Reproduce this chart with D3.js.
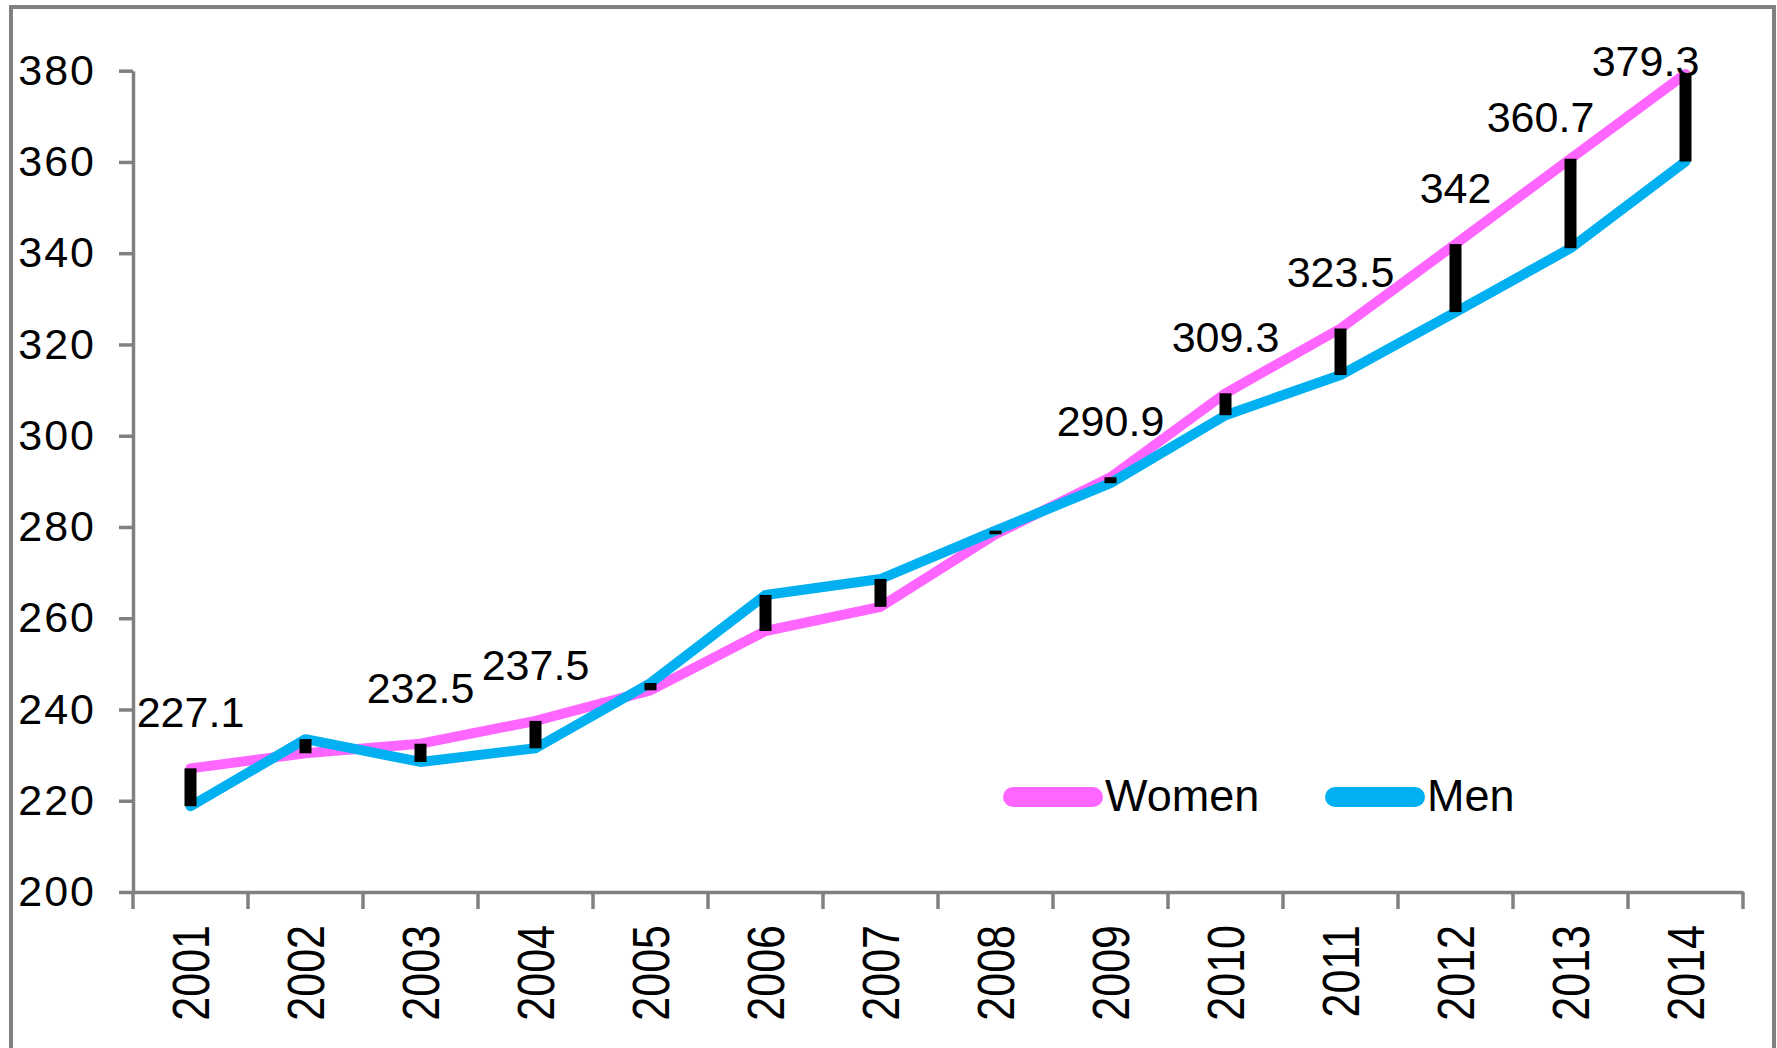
<!DOCTYPE html>
<html>
<head>
<meta charset="utf-8">
<script src="https://cdn.jsdelivr.net/npm/d3@7"></script>
<style>
  body { margin: 0; background: #fff; }
  svg { display: block; font-family: "Liberation Sans", Arial, sans-serif; }
  .domain, .tick line { stroke: #808080; stroke-width: 3.5; }
</style>
</head>
<body>
<script>
//chart values
var years = ["2001","2002","2003","2004","2005","2006","2007","2008","2009","2010","2011","2012","2013","2014"];
var women = [227.1, 230.4, 232.5, 237.5, 244.2, 257.2, 262.5, 278.4, 290.9, 309.3, 323.5, 342, 360.7, 379.3];
var men = [218.8, 233.5, 228.5, 231.5, 245.8, 265.1, 268.6, 279.2, 289.6, 304.5, 313.3, 327.1, 341.1, 360.1];
var labelYears = ["2001","2003","2004","2009","2010","2011","2012","2013","2014"];
var yTicks = [200, 220, 240, 260, 280, 300, 320, 340, 360, 380];
var seriesNames = ["Women", "Men"];

window.onload = drawChart();

function drawChart(){

    var width = 1777,
        height = 1048;

    var svg = d3.select("body")
        .append("svg")
        .attr("width", width)
        .attr("height", height);

    //outer chart border
    svg.append("rect")
        .attr("x", 11).attr("y", 7)
        .attr("width", 1763).attr("height", 1060)
        .attr("fill", "none")
        .attr("stroke", "#808080")
        .attr("stroke-width", 4);

    var x = d3.scaleBand()
        .domain(years)
        .range([133, 1743])
        .padding(0);

    var y = d3.scaleLinear()
        .domain([200, 380])
        .range([892, 70.7]);

    var cx = function(i){ return x(years[i]) + x.bandwidth() / 2; };

    //y axis
    var yAxis = svg.append("g")
        .attr("transform", "translate(133,0)")
        .call(d3.axisLeft(y).tickValues(yTicks).tickSize(14).tickSizeOuter(0).tickPadding(23));
    yAxis.selectAll("text")
        .attr("font-size", 43)
        .attr("letter-spacing", 2)
        .attr("fill", "#000")
        .attr("font-family", "Liberation Sans, Arial, sans-serif");

    //x axis: line plus ticks on category boundaries
    var xAxis = svg.append("g")
        .attr("transform", "translate(0,892)")
        .call(d3.axisBottom(x).tickSize(0).tickSizeOuter(0).tickFormat(""));
    var bounds = years.map(function(d){ return x(d); }).concat([x.range()[1]]);
    xAxis.selectAll(".bound")
        .data(bounds)
        .enter()
        .append("line")
        .attr("class", "bound")
        .attr("x1", function(d){ return d; })
        .attr("x2", function(d){ return d; })
        .attr("y1", 0)
        .attr("y2", 17)
        .attr("stroke", "#808080")
        .attr("stroke-width", 3.5);

    //rotated year labels
    svg.selectAll(".yearLabel")
        .data(years)
        .enter()
        .append("text")
        .attr("class", "yearLabel")
        .attr("transform", function(d, i){
            return "translate(" + cx(i) + ",925) rotate(-90) scale(1,1.22)";
        })
        .attr("text-anchor", "end")
        .attr("dy", "0.36em")
        .attr("font-size", 43)
        .attr("fill", "#000")
        .text(function(d){ return d; });

    var line = d3.line()
        .x(function(d, i){ return cx(i); })
        .y(function(d){ return y(d); });

    svg.append("path")
        .datum(women)
        .attr("class", "women")
        .attr("d", line)
        .attr("fill", "none")
        .attr("stroke", "#FF66FF")
        .attr("stroke-width", 10)
        .attr("stroke-linejoin", "round")
        .attr("stroke-linecap", "round");

    svg.append("path")
        .datum(men)
        .attr("class", "men")
        .attr("d", line)
        .attr("fill", "none")
        .attr("stroke", "#00B0F0")
        .attr("stroke-width", 10)
        .attr("stroke-linejoin", "round")
        .attr("stroke-linecap", "round");

    //high-low bars between the two series
    svg.selectAll(".hilo")
        .data(years)
        .enter()
        .append("rect")
        .attr("class", "hilo")
        .attr("x", function(d, i){ return cx(i) - 6; })
        .attr("y", function(d, i){ return y(Math.max(women[i], men[i])); })
        .attr("width", 12)
        .attr("height", function(d, i){ return Math.abs(y(women[i]) - y(men[i])); })
        .attr("fill", "#000");

    //value labels on women series (last two were moved by hand in the original)
    var nudge = { "2013": [-30, 14], "2014": [-40, 43] };
    svg.selectAll(".valLabel")
        .data(labelYears)
        .enter()
        .append("text")
        .attr("class", "valLabel")
        .attr("x", function(d){
            var i = years.indexOf(d);
            return cx(i) + (nudge[d] ? nudge[d][0] : 0);
        })
        .attr("y", function(d){
            var i = years.indexOf(d);
            return y(women[i]) - 41 + (nudge[d] ? nudge[d][1] : 0);
        })
        .attr("text-anchor", "middle")
        .attr("font-size", 43)
        .attr("fill", "#000")
        .text(function(d){ return String(women[years.indexOf(d)]); });

    //legend
    var legendColors = ["#FF66FF", "#00B0F0"];
    var legendX = [1013, 1335];
    var legend = svg.selectAll(".legend")
        .data(seriesNames)
        .enter()
        .append("g")
        .attr("class", "legend")
        .attr("transform", function(d, i){ return "translate(" + legendX[i] + ",797)"; });
    legend.append("line")
        .attr("x1", 0).attr("x2", 80)
        .attr("y1", 0).attr("y2", 0)
        .attr("stroke", function(d, i){ return legendColors[i]; })
        .attr("stroke-width", 20)
        .attr("stroke-linecap", "round");
    legend.append("text")
        .attr("x", 92)
        .attr("y", 14)
        .attr("font-size", 45)
        .attr("fill", "#000")
        .text(function(d){ return d; });

};
</script>
</body>
</html>
